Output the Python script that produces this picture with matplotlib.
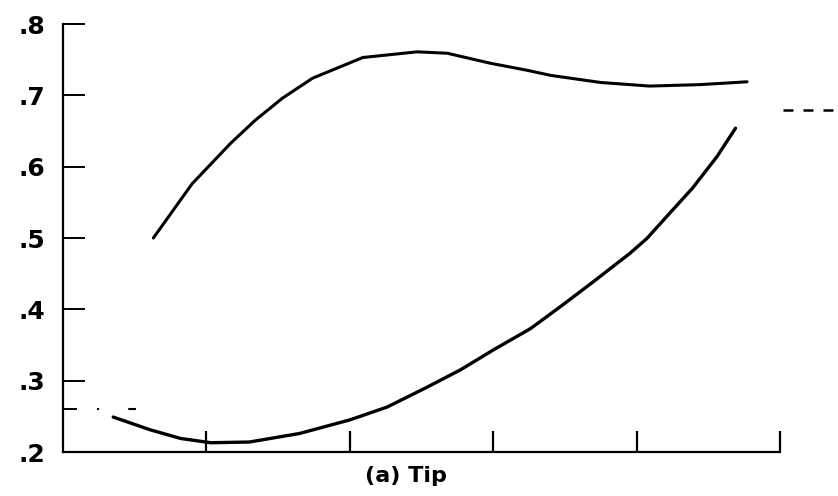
import matplotlib
matplotlib.use("Agg")
import matplotlib.pyplot as plt

x_upper = [0.63, 0.90, 1.17, 1.34, 1.53, 1.74, 2.09, 2.47, 2.68, 2.98, 3.24, 3.40, 3.75, 4.09, 4.44, 4.77]
y_upper = [0.500, 0.576, 0.633, 0.665, 0.696, 0.724, 0.753, 0.761, 0.759, 0.745, 0.735, 0.728, 0.718, 0.713, 0.715, 0.719]

x_lower = [0.35, 0.61, 0.82, 1.03, 1.30, 1.65, 2.00, 2.26, 2.54, 2.77, 3.00, 3.26, 3.47, 3.70,
           3.95, 4.07, 4.25, 4.39, 4.56, 4.69]
y_lower = [0.249, 0.231, 0.219, 0.213, 0.214, 0.226, 0.245, 0.263, 0.291, 0.315, 0.343, 0.373, 0.404, 0.439,
           0.478, 0.499, 0.539, 0.570, 0.614, 0.654]

# stray reference dashes
x_ref_left = [0.24, 0.51]
y_ref_left = [0.26, 0.26]
x_ref_right = [5.02, 5.45]
y_ref_right = [0.68, 0.68]

y_ticks = [0.3, 0.4, 0.5, 0.6, 0.7, 0.8]
y_labels = [".3", ".4", ".5", ".6", ".7", ".8"]
x_ticks = [1, 2, 3, 4, 5]

fig = plt.figure(figsize=(8.38, 4.96), dpi=100)
ax = fig.add_axes([0.0752, 0.0887, 0.8556, 0.8629])

ax.plot(x_upper, y_upper, color="black", lw=2.2, solid_capstyle="round", solid_joinstyle="round")
ax.plot(x_lower, y_lower, color="black", lw=2.4, solid_capstyle="round", solid_joinstyle="round")
ax.plot(x_ref_left, y_ref_left, color="black", lw=1.5, ls=(0, (1, 14, 7, 2)))
ax.plot(x_ref_right, y_ref_right, color="black", lw=1.8, ls=(0, (4, 4)), clip_on=False)

ax.set_xlim(0, 5)
ax.set_ylim(0.2, 0.8)

for s in ["top", "right"]:
    ax.spines[s].set_visible(False)
for s in ["left", "bottom"]:
    ax.spines[s].set_linewidth(1.6)

ax.set_yticks([0.2] + y_ticks)
ax.set_yticklabels([".2"] + y_labels, fontsize=18, fontweight="bold")
ax.set_yticks([0.26], minor=True)
ax.tick_params(axis="y", which="major", direction="in", length=16, width=1.4, pad=13)
ax.tick_params(axis="y", which="minor", direction="in", length=10, width=1.4)

ax.set_xticks(x_ticks)
ax.set_xticklabels([])
ax.tick_params(axis="x", direction="in", length=15, width=1.6)

ax.text(0.478, -0.032, "(a) Tip", transform=ax.transAxes, ha="center", va="top",
        fontsize=16, fontweight="bold")

fig.savefig("out.png", dpi=100)
